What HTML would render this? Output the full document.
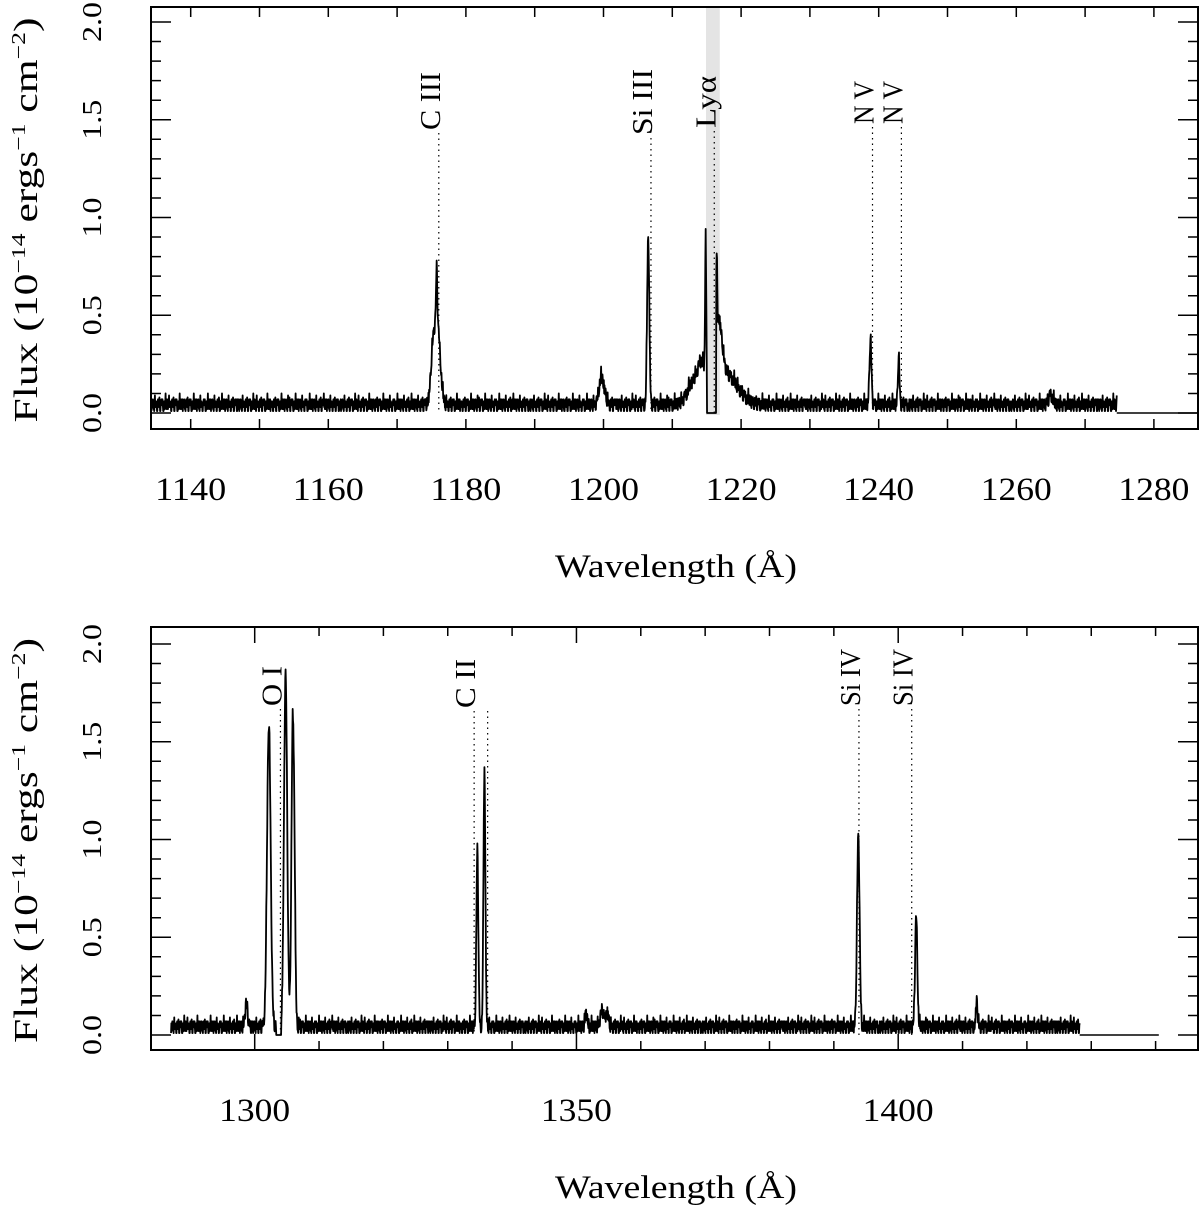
<!DOCTYPE html>
<html><head><meta charset="utf-8"><style>
html,body{margin:0;padding:0;background:#fff;}
svg text{font-family:"Liberation Serif","DejaVu Serif",serif;fill:#000;}
</style></head><body>
<svg id="chart" width="1200" height="1207" viewBox="0 0 1200 1207" xmlns="http://www.w3.org/2000/svg"></svg>
<script>
// ---- data ----
const topLines = [[1175.3,0.33,0.35],[1176.0,0.33,0.35],[1175.75,0.3,0.1],[1199.6,0.12,0.3],[1200.1,0.06,0.3],[1206.5,0.85,0.16],[1213.3,0.12,1.0],[1214.3,0.12,0.5],[1214.85,0.72,0.08],[1216.45,0.38,0.08],[1216.7,0.3,0.5],[1217.6,0.16,1.8],[1238.8,0.33,0.15],[1242.9,0.24,0.12],[1265.0,0.05,0.3]];
const botLines = [[1298.7,0.12,0.2],[1302.2,1.55,0.28],[1304.8,1.8,0.25],[1305.9,1.5,0.2],[1306.2,0.5,0.15],[1334.6,0.9,0.15],[1335.7,1.3,0.15],[1351.5,0.08,0.15],[1354.0,0.08,0.3],[1354.8,0.07,0.2],[1393.8,0.98,0.2],[1402.8,0.56,0.18],[1412.2,0.13,0.15]];
const noise = [0.00,0.05,0.01,0.06,0.02,0.04,0.00,0.05,0.01,0.05,0.03,0.07,0.00,0.04,0.02,0.06,0.01,0.03,0.05,0.00,0.08,0.02,0.04,0.01,0.06,0.00,0.05,0.02,0.06,0.01,0.04,0.03,0.00,0.06,0.02,0.05,0.01,0.09,0.00,0.04,0.03,0.05,0.01,0.06,0.02,0.00,0.05,0.03,0.04,0.01];
const topLabels = [["C III",1176.06,130,58],["Si III",1206.9,135,66],["Lyα",1216.1,128,52],["N V",1239.1,124,43],["N V",1243.3,124,43]];
const botLabels = [["O I",1304.0,706,40],["C II",1334.1,708,49],["C II",1336.2,708,0],["Si IV",1393.9,706,57],["Si IV",1402.1,706,57]];
const topXTicks = [1140,1160,1180,1200,1220,1240,1260,1280];
const botXTicks = [1300,1350,1400];
const yTicks = ["0.0","0.5","1.0","1.5","2.0"];
const topGaps = [[1215.0,1216.35]];
const botGaps = [[1303.3,1304.1]];

const NS="http://www.w3.org/2000/svg";
const svg=document.getElementById('chart');
function mk(tag,attrs,parent){const e=document.createElementNS(NS,tag);for(const k in attrs)e.setAttribute(k,attrs[k]);(parent||svg).appendChild(e);return e;}

function panel(cfg){
  const g=mk('g',{});
  
  
  const X=w=>cfg.x0+(w-cfg.w0)*cfg.pxPerA;
  const Y=f=>cfg.y0-f*195.5;
  if(cfg.band){const b=mk('rect',{x:X(cfg.band[0]),y:cfg.top+1,width:X(cfg.band[1])-X(cfg.band[0]),height:Y(-0.005)-cfg.top,fill:'#e4e4e4'},g);
    }
  let pts=[];let i=0;
  for(let w=cfg.dStart;w<=cfg.dEnd;w+=0.05,i++){
    let f=noise[(i*7+Math.floor(i/50)*13)%noise.length]+0.01;
    let gap=false;
    for(const gp of cfg.gaps) if(w>gp[0]&&w<gp[1]) gap=true;
    for(const l of cfg.lines){f+=l[1]*Math.exp(-0.5*Math.pow((w-l[0])/l[2],2));}
    if(gap) f=0;
    pts.push(X(w).toFixed(2)+','+Y(f).toFixed(2));
  }
  const sp=mk('polyline',{points:pts.join(' '),fill:'none',stroke:'#000','stroke-width':1.8,'stroke-linejoin':'round'},g);
  
  const zl=mk('line',{x1:X(cfg.dEnd),x2:X(cfg.zEnd),y1:Y(0),y2:Y(0),stroke:'#000','stroke-width':1.4},g);
  
  for(const lb of cfg.labels){
    const lx=X(lb[1]);
    const dl=mk('line',{x1:lx,x2:lx,y1:lb[2]+3,y2:Y(0),stroke:'#000','stroke-width':1.2,'stroke-dasharray':'1.5,4'},g);
    
    if(lb[3]>0){
      const t=mk('text',{x:0,y:0,transform:`translate(${lx+1},${lb[2]}) rotate(-90)`,'font-size':28,textLength:lb[3],lengthAdjust:'spacingAndGlyphs'},g);
      t.textContent=lb[0];
      
    }
  }
  const fr=mk('rect',{x:151,y:cfg.top,width:1047,height:cfg.bottom-cfg.top,fill:'none',stroke:'#000','stroke-width':2},g);
  
  let tk='';
  for(let w=Math.ceil(cfg.w0/10)*10;X(w)<1198;w+=10){
    if(X(w)<=151) continue;
    const major=(w%cfg.majorX===0);const len=major?cfg.majL:cfg.minL;
    tk+=`M${X(w)},${cfg.bottom}v${-len}M${X(w)},${cfg.top}v${len}`;
  }
  for(let k=0;k<=20;k++){const y=Y(k*0.1);const len=(k%5===0)?20:10;tk+=`M151,${y}h${len}M1198,${y}h${-len}`;}
  const tp=mk('path',{d:tk,stroke:'#000','stroke-width':1.5,fill:'none'},g);
  
  for(const v of cfg.xTicks){
    const t=mk('text',{x:X(v),y:cfg.bottom+71,'text-anchor':'middle','font-size':33,textLength:71,lengthAdjust:'spacingAndGlyphs'},g);
    t.textContent=v;
  }
  yTicks.forEach((s,k)=>{
    const t=mk('text',{x:0,y:0,transform:`translate(101,${Y(parseFloat(s))}) rotate(-90)`,'text-anchor':'middle','font-size':27,textLength:40,lengthAdjust:'spacingAndGlyphs'},g);
    t.textContent=s;
  });
  const xt=mk('text',{x:676,y:cfg.bottom+148,'text-anchor':'middle','font-size':33,textLength:242,lengthAdjust:'spacingAndGlyphs'},g);
  xt.textContent='Wavelength (Å)';
  const yt=mk('text',{x:0,y:0,transform:`translate(37,${(cfg.top+cfg.bottom)/2+2}) rotate(-90)`,'text-anchor':'middle','font-size':34},g);
  yt.innerHTML='Flux (10<tspan dy="-12" font-size="20">−14</tspan><tspan dy="12"> ergs</tspan><tspan dy="-12" font-size="20">−1</tspan><tspan dy="12"> cm</tspan><tspan dy="-12" font-size="20">−2</tspan><tspan dy="12">)</tspan>';
  yt.setAttribute('textLength',405);yt.setAttribute('lengthAdjust','spacingAndGlyphs');
  
}
panel({name:'top-panel',x0:190.7,w0:1140,pxPerA:6.88,y0:413,top:7,bottom:429,dStart:1134.3,dEnd:1274.6,zEnd:1286.3,lines:topLines,gaps:topGaps,labels:topLabels,xTicks:topXTicks,majorX:10,majL:10,minL:10,band:[1214.9,1216.9]});
panel({name:'bottom-panel',x0:254.7,w0:1300,pxPerA:6.435,y0:1035,top:627,bottom:1050,dStart:1287,dEnd:1428.2,zEnd:1440.5,lines:botLines,gaps:botGaps,labels:botLabels,xTicks:botXTicks,majorX:50,majL:16,minL:9,band:null});
</script>
</body></html>
